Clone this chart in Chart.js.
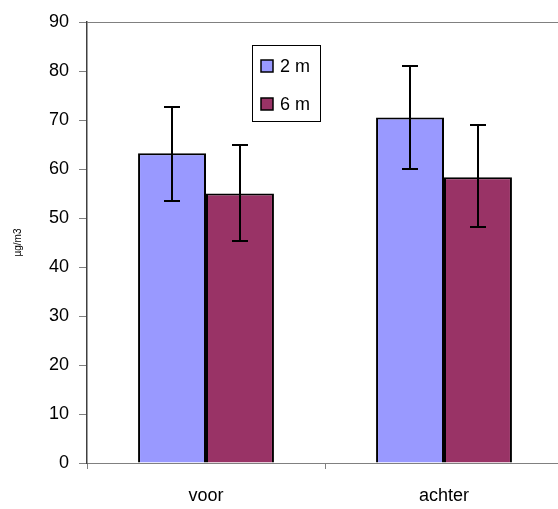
<!DOCTYPE html>
<html>
<head>
<meta charset="utf-8">
<script src="https://cdn.jsdelivr.net/npm/chart.js@4"></script>
<style>
    html, body { margin: 0; padding: 0; background: #fff; overflow: hidden; }
    #wrap { width: 564px; height: 509px; }
</style>
</head>
<body>
<div id="wrap"><canvas id="chart" width="564" height="509"></canvas></div>
<script>
// chart data
const categories = ['voor', 'achter'];
const seriesNames = ['2 m', '6 m'];
const values2m = [63.2, 70.5];
const values6m = [55.0, 58.3];
// error bar ends
const low2m = [53.5, 59.9];
const high2m = [72.6, 81.1];
const low6m = [45.3, 48.2];
const high6m = [64.9, 68.9];
const yTicks = [0, 10, 20, 30, 40, 50, 60, 70, 80, 90];

const colors = ['#9999FF', '#993366'];
const FONT = "'Liberation Sans', Arial, sans-serif";

// draws the whiskers on top of the bars
const errorBars = {
    id: 'errorBars',
    afterDatasetsDraw(chart) {
        const ctx = chart.ctx;
        const y = chart.scales.y;
        const ranges = [[low2m, high2m], [low6m, high6m]];
        ctx.save();
        ctx.strokeStyle = '#000';
        ctx.lineWidth = 2;
        chart.data.datasets.forEach((ds, i) => {
            chart.getDatasetMeta(i).data.forEach((bar, j) => {
                const x = Math.round(bar.x);
                const yLo = Math.round(y.getPixelForValue(ranges[i][0][j]));
                const yHi = Math.round(y.getPixelForValue(ranges[i][1][j]));
                ctx.beginPath();
                ctx.moveTo(x, yLo);
                ctx.lineTo(x, yHi);
                ctx.moveTo(x - 8, yLo);
                ctx.lineTo(x + 8, yLo);
                ctx.moveTo(x - 8, yHi);
                ctx.lineTo(x + 8, yHi);
                ctx.stroke();
            });
        });
        ctx.restore();
    }
};

// top frame line and legend box inside the plot
const frameAndLegend = {
    id: 'frameAndLegend',
    beforeDatasetsDraw(chart) {
        const ctx = chart.ctx;
        const a = chart.chartArea;
        ctx.save();
        ctx.strokeStyle = '#808080';
        ctx.lineWidth = 1;
        ctx.beginPath();
        ctx.moveTo(a.left, a.top + 0.5);
        ctx.lineTo(a.right, a.top + 0.5);
        ctx.lineTo(a.right - 0.5, a.bottom);
        ctx.stroke();
        ctx.restore();
    },
    afterDraw(chart) {
        const ctx = chart.ctx;
        ctx.save();
        ctx.fillStyle = '#fff';
        ctx.fillRect(253, 46, 68, 76);
        ctx.strokeStyle = '#000';
        ctx.lineWidth = 1;
        ctx.strokeRect(252.5, 45.5, 68, 76);
        ctx.font = '18px ' + FONT;
        ctx.textBaseline = 'middle';
        chart.data.datasets.forEach((ds, i) => {
            const cy = 66 + i * 38;
            ctx.fillStyle = ds.backgroundColor;
            ctx.fillRect(261, cy - 6, 12, 12);
            ctx.lineWidth = 1.5;
            ctx.strokeStyle = '#000';
            ctx.strokeRect(261, cy - 6, 12, 12);
            ctx.fillStyle = '#000';
            ctx.fillText(ds.label, 280, cy + 1);
        });
        ctx.restore();
    }
};

new Chart(document.getElementById('chart'), {
    type: 'bar',
    data: {
        labels: categories,
        datasets: [
            { label: seriesNames[0], data: values2m, backgroundColor: colors[0], borderColor: '#000', borderWidth: 2 },
            { label: seriesNames[1], data: values6m, backgroundColor: colors[1], borderColor: '#000', borderWidth: 2 }
        ]
    },
    options: {
        responsive: false,
        animation: false,
        layout: { padding: { top: 22, right: 1, left: 0, bottom: 0 } },
        datasets: { bar: { categoryPercentage: 0.571, barPercentage: 1 } },
        plugins: { legend: { display: false }, tooltip: { enabled: false } },
        scales: {
            x: {
                offset: true,
                grid: { offset: true, drawOnChartArea: false, tickLength: 6, color: '#808080' },
                border: { color: '#808080', width: 1 },
                ticks: { color: '#000', font: { family: FONT, size: 18 }, padding: 16 },
                afterFit(scale) { scale.height = 46; }
            },
            y: {
                min: 0,
                max: 90,
                afterBuildTicks(scale) { scale.ticks = yTicks.map(v => ({ value: v })); },
                grid: { drawOnChartArea: false, tickLength: 8, color: '#808080' },
                border: { color: '#404040', width: 1.5 },
                ticks: { color: '#000', font: { family: FONT, size: 18 }, padding: 10 },
                title: { display: true, text: 'µg/m3', color: '#000', font: { family: FONT, size: 10 }, padding: { top: 12, bottom: 0 } },
                afterFit(scale) { scale.width = 87; }
            }
        }
    },
    plugins: [errorBars, frameAndLegend]
});
</script>
</body>
</html>
